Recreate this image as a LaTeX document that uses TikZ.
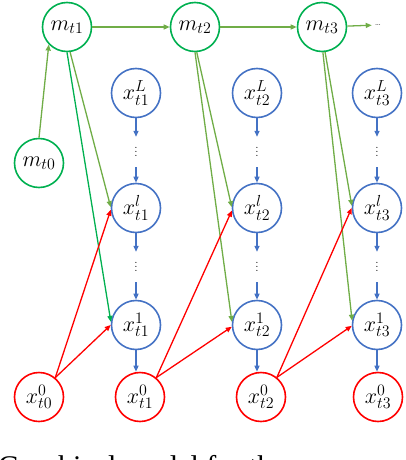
\RequirePackage{fix-cm}
\documentclass[tikz,border=0pt]{standalone}
\usepackage[no-math]{fontspec}
\newfontfamily\capfont{Liberation Serif}
\usetikzlibrary{arrows.meta}
\DeclareMathSizes{22}{22}{16}{12}
\definecolor{cg}{RGB}{0,176,80}
\definecolor{lg}{RGB}{112,173,71}
\definecolor{cb}{RGB}{68,114,196}
\definecolor{cr}{RGB}{255,0,0}
\newcommand{\myvdots}{\vbox{\baselineskip4pt\lineskiplimit0pt\hbox{.}\hbox{.}\hbox{.}}}
\begin{document}
\begin{tikzpicture}[x=1pt,y=-1pt,
  circbase/.style={circle, line width=1.6pt, minimum size=49pt, inner sep=0pt, font=\fontsize{22}{26}\selectfont},
  mnode/.style={circbase, draw=cg},
  xnode/.style={circbase, draw=cb},
  rnode/.style={circbase, draw=cr},
  vd/.style={inner sep=0pt, minimum height=30pt, minimum width=6pt, font=\large},
  arr/.style={line width=1.3pt, -{Triangle[length=6pt,width=5pt]}},
  ga/.style={arr, color=lg},
  dga/.style={arr, color=cg},
  ba/.style={arr, color=cb},
  ra/.style={arr, color=cr}]
\useasboundingbox (0,0) rectangle (406,460);
% m chain
\node[mnode] (m0) at (39,163) {$m_{t0}$};
\node[mnode] (m1) at (67,27) {$m_{t1}$};
\node[mnode] (m2) at (195,27) {$m_{t2}$};
\node[mnode] (m3) at (322,27) {$m_{t3}$};
\node[inner sep=3pt, font=\fontsize{9}{9}\selectfont] (md) at (378,25) {\ldots};
% columns
\foreach \i/\x in {1/136,2/257,3/377}{
  \node[xnode] (xL\i) at (\x,93) {$x_{t\i}^{L}$};
  \node[vd] (da\i) at (\x,152) {\myvdots};
  \node[xnode] (xl\i) at (\x,208) {$x_{t\i}^{l}$};
  \node[vd] (db\i) at (\x,267) {\myvdots};
  \node[xnode] (xo\i) at (\x,325) {$x_{t\i}^{1}$};
}
\node[rnode] (r0) at (39,397) {$x_{t0}^{0}$};
\node[rnode] (r1) at (140,397) {$x_{t1}^{0}$};
\node[rnode] (r2) at (261,397) {$x_{t2}^{0}$};
\node[rnode] (r3) at (378,397) {$x_{t3}^{0}$};
% blue chains
\foreach \i in {1,2,3}{
  \draw[ba] (xL\i) -- (da\i);
  \draw[ba] (da\i) -- (xl\i);
  \draw[ba] (xl\i) -- (db\i);
  \draw[ba] (db\i) -- (xo\i);
  \draw[ba] (xo\i.south) -- (xo\i.south |- r\i.north);
}
% m arrows
\draw[ga] (m0.north) -- (m1.224);
\draw[ga] (m1) -- (m2);
\draw[ga] (m2) -- (m3);
\draw[ga] (m3) -- (md);
\draw[ga] (m1.-83) -- (xl1.178);
\draw[dga] (m1.-90) -- (xo1.173);
\draw[ga] (m2.-86) -- (xl2.178);
\draw[ga] (m2.-90) -- (xo2.173);
\draw[ga] (m3.-83) -- (xl3.175);
\draw[ga] (m3.-88) -- (xo3.170);
% red arrows
\draw[ra] (r0.50) -- (xl1.184);
\draw[ra] (r0.50) -- (xo1.180);
\draw[ra] (r1.50) -- (xl2.186);
\draw[ra] (r1.50) -- (xo2.184);
\draw[ra] (r2.51) -- (xl3.180);
\draw[ra] (r2.51) -- (xo3.182);
% caption (cut off at the bottom)
\node[anchor=base west, inner sep=0pt, font=\capfont\fontsize{30}{34}\selectfont] (cap) at (-2,476) {Graphical model for the};
\end{tikzpicture}
\end{document}
